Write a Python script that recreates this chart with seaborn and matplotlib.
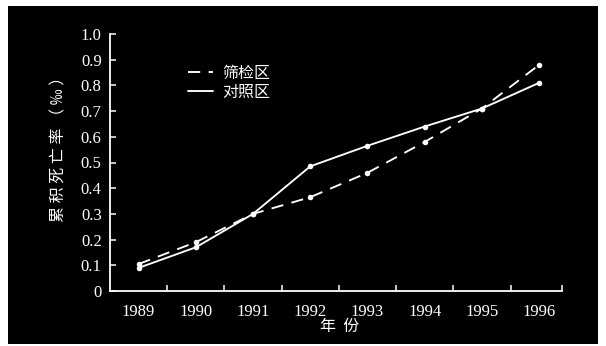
import matplotlib
matplotlib.use("Agg")
import matplotlib.pyplot as plt
import seaborn as sns
import pandas as pd
from matplotlib.patches import Rectangle
from matplotlib.lines import Line2D
from matplotlib.ticker import FixedLocator

# Cumulative mortality (per mille) by year for the two study areas
years = [1989, 1990, 1991, 1992, 1993, 1994, 1995, 1996]
screened = [0.105, 0.19, 0.30, 0.365, 0.46, 0.58, 0.71, 0.88]
control = [0.09, 0.17, 0.30, 0.485, 0.565, 0.64, 0.71, 0.81]
group_names = ["筛检区", "对照区"]
y_ticks = [0.0, 0.1, 0.2, 0.3, 0.4, 0.5, 0.6, 0.7, 0.8, 0.9, 1.0]
y_tick_labels = ["0", "0.1", "0.2", "0.3", "0.4", "0.5", "0.6", "0.7", "0.8", "0.9", "1.0"]
x_label = "年  份"
y_label = "累 积 死 亡 率 （ ‰ ）"

df = pd.DataFrame({
    "year": years * 2,
    "rate": screened + control,
    "group": [group_names[0]] * len(years) + [group_names[1]] * len(years),
})

sns.set_theme(style="ticks")
plt.rcParams["font.family"] = ["Liberation Serif", "DejaVu Serif"]
cjk = ["Noto Sans CJK SC", "DejaVu Sans"]

W, H = 606, 346
fig = plt.figure(figsize=(W / 100, H / 100), dpi=100, facecolor="white")

# black panel with a thin white margin
fig.patches.append(Rectangle((8 / W, 1 - 344 / H), (598 - 8) / W, (344 - 6) / H,
                             transform=fig.transFigure, facecolor="black",
                             edgecolor="none", zorder=-10))

ax = fig.add_axes([110 / W, 1 - 291 / H, (562 - 110) / W, (291 - 34) / H])
ax.set_facecolor("none")

dash_map = {group_names[0]: (6.5, 4.5), group_names[1]: ""}
sns.lineplot(data=df, x="year", y="rate", hue="group", style="group",
             hue_order=group_names, style_order=group_names,
             palette=["white", "white"], dashes=dash_map,
             markers={g: "o" for g in group_names}, markersize=4,
             markeredgewidth=0, linewidth=1.35, legend=False, ax=ax)

ax.set_xlim(1988.5, 1996.4)
ax.set_ylim(0, 1.0)

for side in ["top", "right"]:
    ax.spines[side].set_visible(False)
for side in ["left", "bottom"]:
    ax.spines[side].set_color("white")
    ax.spines[side].set_linewidth(1.3)

ax.set_yticks(y_ticks)
ax.set_yticklabels(y_tick_labels)
ax.set_xticks(years)
ax.set_xticklabels([str(y) for y in years])
ax.xaxis.set_minor_locator(FixedLocator([y + 0.5 for y in years[:-1]] + [1996.4]))

ax.tick_params(axis="y", direction="in", length=4, width=1.1, color="white",
               labelcolor="white", labelsize=12, pad=6)
ax.tick_params(axis="x", which="major", length=0, labelcolor="white",
               labelsize=12, pad=9)
ax.tick_params(axis="x", which="minor", direction="in", length=4, width=1.1,
               color="white")

ax.set_xlabel("")
ax.set_ylabel("")
fig.text(340 / W, 1 - 326 / H, x_label, color="white", fontsize=11.5,
         family=cjk, ha="center", va="center")
fig.text(59 / W, 1 - 145 / H, y_label, color="white", fontsize=11.5,
         family=cjk, rotation=90, ha="center", va="center")

handles = [Line2D([], [], color="white", lw=1.35, dashes=(6.5, 4.5)),
           Line2D([], [], color="white", lw=1.35)]
leg = ax.legend(handles, group_names, frameon=False, loc="upper left",
                bbox_to_anchor=(188 / W, 1 - 65 / H), bbox_transform=fig.transFigure,
                borderpad=0, borderaxespad=0, handlelength=1.55, handletextpad=0.6,
                labelspacing=0.1, prop={"family": cjk, "size": 11.5})
for t in leg.get_texts():
    t.set_color("white")

fig.savefig("out.png", dpi=100, facecolor="white")
